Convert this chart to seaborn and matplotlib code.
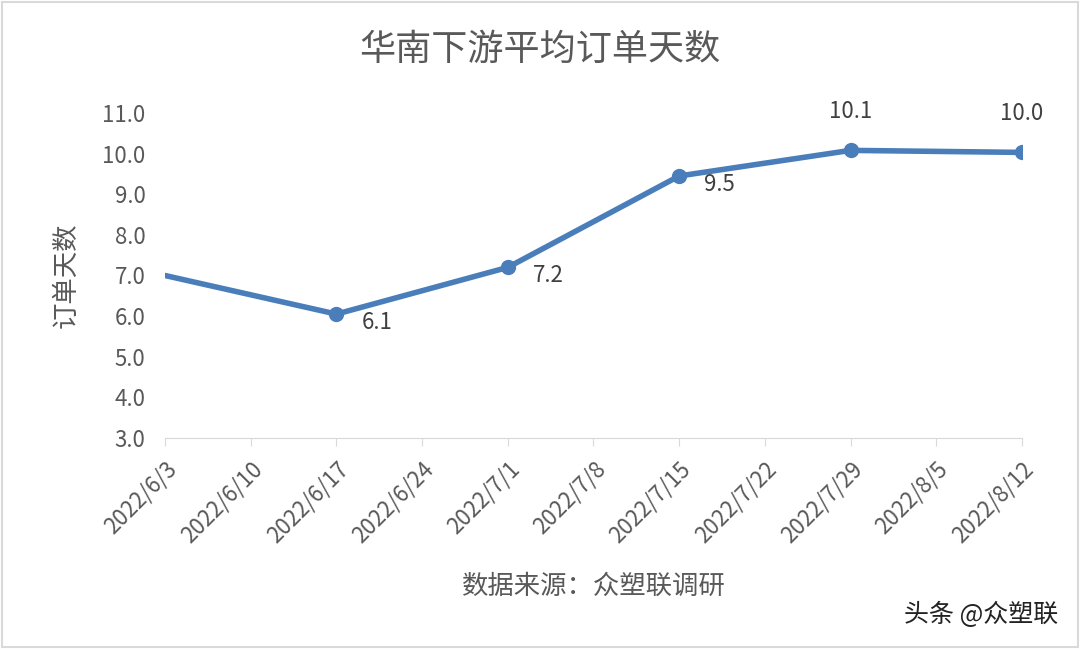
import pandas as pd
import matplotlib.pyplot as plt
import seaborn as sns

# data
dates = ['2022-06-03', '2022-06-17', '2022-07-01', '2022-07-15', '2022-07-29', '2022-08-12']
days = [7.0, 6.05, 7.2, 9.45, 10.08, 10.03]
labels = ['', '6.1', '7.2', '9.5', '10.1', '10.0']
tick_dates = pd.date_range('2022-06-03', '2022-08-12', freq='7D')

df = pd.DataFrame({'date': pd.to_datetime(dates), 'days': days})

sns.set_style('white')
plt.rcParams['font.family'] = ['Noto Sans CJK SC', 'DejaVu Sans']

fig = plt.figure(figsize=(10.8, 6.49), dpi=100)
ax = fig.add_axes([165/1080, 1 - 438/649, (1022-165)/1080, (438-113)/649])
color = '#4a7ebb'
sns.lineplot(data=df, x='date', y='days', ax=ax, color=color, linewidth=4)
pts = df.iloc[1:]
ax.plot(pts['date'], pts['days'], 'o', color=color, markersize=10)

for d, v, lab in zip(df['date'], df['days'], labels):
    if not lab:
        continue
    if v >= 10:
        ax.annotate(lab, (d, v), xytext=(0, 20), textcoords='offset points',
                    ha='center', va='bottom', fontsize=16, color='#404040')
    else:
        ax.annotate(lab, (d, v), xytext=(18, -6), textcoords='offset points',
                    ha='left', va='center', fontsize=16, color='#404040')

ax.set_xlim(tick_dates[0], tick_dates[-1])
ax.set_ylim(3, 11)
ax.set_yticks([3, 4, 5, 6, 7, 8, 9, 10, 11])
ax.set_yticklabels([f'{v:.1f}' for v in range(3, 12)], fontsize=16, color='#595959')
ax.set_xticks(tick_dates)
ax.set_xticklabels([f'{d.year}/{d.month}/{d.day}' for d in tick_dates],
                   rotation=45, ha='right', rotation_mode='anchor', fontsize=16, color='#595959')
ax.tick_params(axis='x', length=6, color='#d9d9d9', direction='out', bottom=True, pad=8)
ax.tick_params(axis='y', length=0, pad=14)
for s in ['top', 'right', 'left']:
    ax.spines[s].set_visible(False)
ax.spines['bottom'].set_color('#d9d9d9')
ax.set_xlabel('数据来源：众塑联调研', fontsize=19, color='#595959', labelpad=18)
ax.set_ylabel('订单天数', fontsize=19, color='#595959', labelpad=16)

fig.text(0.5, 1 - 50/649, '华南下游平均订单天数', ha='center', va='center', fontsize=26, color='#595959')
fig.text(0.98, 1 - 615/649, '头条 @众塑联', ha='right', va='center', fontsize=18, color='#222222')
fig.patches.append(plt.Rectangle((0.002, 0.003), 0.996, 0.994, transform=fig.transFigure,
                                 fill=False, edgecolor='#d9d9d9', linewidth=1.5))
fig.savefig('out.png', dpi=100)
